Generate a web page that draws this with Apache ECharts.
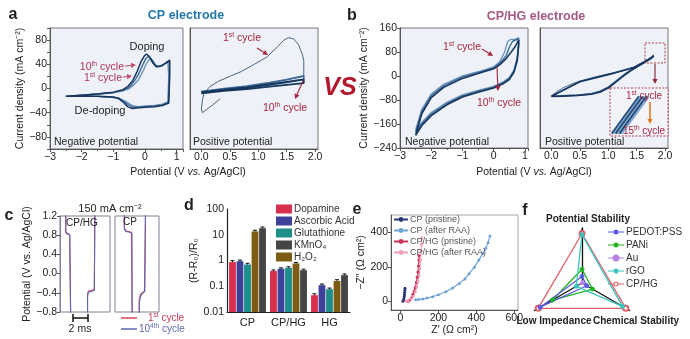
<!DOCTYPE html>
<html>
<head>
<meta charset="utf-8">
<script src="https://cdn.jsdelivr.net/npm/echarts@6/dist/echarts.min.js"></script>
<style>
html, body { margin: 0; padding: 0; background: #fff; }
#main { width: 690px; height: 339px; }
</style>
</head>
<body>
<div id="main"></div>
<script>
// ===== data =====
// a: CP electrode, cyclic voltammetry [V, mA cm-2]
var cpNeg1 = [[-2.5,-13],[-2.0,-11],[-1.5,-9],[-1.0,-7],[-0.7,-4],[-0.5,0],[-0.35,6],[-0.2,15],[-0.05,30],[0.05,42],[0.15,49],[0.25,46],[0.35,38],[0.45,36],[0.6,40],[0.72,45],[0.75,47],[0.75,20],[0.72,-22],[0.55,-26],[0.3,-28],[0.0,-29],[-0.2,-30],[-0.35,-29],[-0.5,-25],[-0.65,-20],[-0.8,-17],[-1.0,-15],[-1.5,-13],[-2.0,-13],[-2.5,-13]];
var cpNeg5 = [[-2.5,-13],[-2.0,-11],[-1.5,-9],[-1.0,-6.5],[-0.7,-3],[-0.52,1],[-0.38,9],[-0.22,22],[-0.08,38],[0.02,49],[0.1,53],[0.2,49],[0.3,40],[0.4,36],[0.55,38],[0.7,43],[0.77,46],[0.77,20],[0.74,-23],[0.55,-27],[0.3,-29],[0.0,-30],[-0.2,-31],[-0.38,-31],[-0.52,-27],[-0.68,-21],[-0.82,-16],[-1.0,-14.5],[-1.5,-13],[-2.0,-13],[-2.5,-13]];
var cpNeg10 = [[-2.5,-13],[-2.0,-11],[-1.5,-9],[-1.0,-6],[-0.7,-2],[-0.55,3],[-0.4,12],[-0.25,28],[-0.12,45],[-0.02,54],[0.05,57],[0.15,52],[0.25,42],[0.35,36],[0.5,37],[0.65,42],[0.78,47],[0.78,20],[0.75,-24],[0.55,-28],[0.3,-30],[0.0,-31],[-0.2,-32],[-0.4,-33],[-0.55,-30],[-0.7,-22],[-0.85,-16],[-1.0,-14],[-1.5,-13],[-2.0,-13],[-2.5,-13]];
var cpPos1 = [[0.33,-17],[0.2,-27],[0.1,-34],[0.02,-40],[0.0,-34],[0.02,-18],[0.05,-7],[0.15,3],[0.3,12],[0.5,20],[0.7,28],[0.93,40],[1.15,52],[1.35,70],[1.45,80],[1.53,84],[1.62,82],[1.71,72],[1.78,55],[1.8,46],[1.8,20],[1.5,14],[1.2,9],[0.8,3],[0.4,-1],[0.0,-5]];
var cpPos5 = [[0.0,-5],[0.4,0],[0.8,4],[1.2,10],[1.5,15],[1.8,21],[1.8,15],[1.5,10],[1.2,6],[0.8,1],[0.4,-3],[0.0,-7]];
var cpPos10 = [[0.0,-6],[0.4,-2],[0.8,2],[1.2,7],[1.5,11],[1.8,15],[1.8,9],[1.5,6],[1.2,3],[0.8,-1],[0.4,-4],[0.0,-8]];
// b: CP/HG electrode
var hgNeg1 = [[-2.5,-180],[-2.3,-110],[-2.0,-60],[-1.6,-28],[-1.0,0],[-0.5,14],[0.0,30],[0.2,48],[0.35,80],[0.45,115],[0.55,122],[0.7,122],[0.8,128],[0.8,110],[0.75,60],[0.65,20],[0.5,-5],[0.3,-20],[0.0,-35],[-0.5,-48],[-1.0,-63],[-1.5,-88],[-2.0,-122],[-2.3,-155],[-2.5,-180]];
var hgNeg5 = [[-2.5,-188],[-2.3,-118],[-2.0,-66],[-1.6,-33],[-1.0,-4],[-0.5,11],[0.0,27],[0.2,43],[0.4,68],[0.5,95],[0.6,115],[0.7,120],[0.8,124],[0.8,105],[0.76,55],[0.65,16],[0.5,-8],[0.3,-23],[0.0,-37],[-0.5,-51],[-1.0,-66],[-1.5,-92],[-2.0,-127],[-2.3,-160],[-2.5,-188]];
var hgNeg10 = [[-2.5,-198],[-2.3,-125],[-2.0,-72],[-1.6,-38],[-1.0,-8],[-0.5,8],[0.0,24],[0.2,38],[0.4,58],[0.55,78],[0.7,100],[0.8,120],[0.8,100],[0.75,50],[0.65,12],[0.5,-12],[0.3,-26],[0.0,-40],[-0.5,-54],[-1.0,-70],[-1.5,-96],[-2.0,-132],[-2.3,-165],[-2.5,-198]];
var hgPos1 = [[0.0,-66],[0.1,-52],[0.2,-40],[0.35,-27],[0.5,-17],[0.75,-4],[1.05,9],[1.25,18],[1.45,30],[1.6,44],[1.72,58],[1.8,70],[1.75,62],[1.63,48],[1.5,34],[1.4,22],[1.28,6],[1.16,-12],[1.0,-36],[0.85,-50],[0.7,-58],[0.46,-63],[0.2,-65],[0.0,-67]];
var hgPos8 = [[0.0,-67],[0.5,-18],[1.05,8],[1.45,29],[1.72,57],[1.8,68],[1.75,60],[1.63,46],[1.5,32],[1.4,20],[1.28,4],[1.16,-14],[1.0,-38],[0.85,-52],[0.7,-60],[0.46,-64],[0.2,-66],[0.0,-68]];
var hgPos15 = [[0.0,-68],[0.5,-19],[1.05,7],[1.45,28],[1.72,56],[1.8,66],[1.75,58],[1.63,44],[1.5,30],[1.4,18],[1.28,2],[1.16,-16],[1.0,-40],[0.85,-54],[0.7,-61],[0.46,-65],[0.2,-67],[0.0,-68]];
// b inset: zoom of the 1st..15th cycle ends
var hgInset = [
  [[1.56,42],[1.70,73]],
  [[1.57,42],[1.71,73]],
  [[1.58,42],[1.72,73]],
  [[1.59,42],[1.73,73]],
  [[1.60,42],[1.74,73]],
  [[1.61,42],[1.75,73]]
];
// c: galvanostatic curves at 150 mA cm-2 [ms, V]
var gcdHG1 = [[0.76,1.3],[0.76,0.88],[0.85,0.83],[1.0,0.82],[1.3,0.81],[1.42,0.78],[1.42,-0.9],[3.69,-0.9],[3.69,-0.44],[3.8,-0.37],[3.95,-0.34],[4.6,-0.33],[4.67,-0.3],[4.67,1.3]];
var gcdHG10k = [[0.78,1.3],[0.78,0.86],[0.88,0.82],[1.3,0.81],[1.44,0.79],[1.44,-0.9],[3.69,-0.9],[3.69,-0.47],[3.78,-0.39],[3.95,-0.36],[4.6,-0.35],[4.67,-0.32],[4.67,1.3]];
var gcdCP1 = [[1.24,1.3],[1.24,0.97],[1.4,0.9],[1.7,0.88],[2.2,0.86],[2.3,0.83],[2.3,-0.9],[3.24,-0.9],[3.24,-0.55],[3.4,-0.44],[3.7,-0.39],[4.0,-0.37],[4.09,-0.33],[4.09,1.3]];
var gcdCP10k = [[1.26,1.3],[1.26,0.93],[1.45,0.88],[2.0,0.86],[2.28,0.84],[2.3,0.8],[2.3,-0.9],[3.26,-0.9],[3.26,-0.62],[3.35,-0.52],[3.6,-0.42],[3.95,-0.38],[4.09,-0.35],[4.09,1.3]];
// d: (R-R0)/R0 with error bars
var dCats = ['CP', 'CP/HG', 'HG'];
var dDopamine = [0.87, 0.39, 0.045];
var dAscorbic = [0.94, 0.48, 0.11];
var dGlutathione = [0.7, 0.52, 0.077];
var dH2O2 = [13.5, 0.77, 0.16];
var dKMnO4 = [18, 0.42, 0.27];
var dDopamineErr = [0.12, 0.04, 0.006];
var dAscorbicErr = [0.1, 0.04, 0.012];
var dGlutathioneErr = [0.08, 0.05, 0.008];
var dH2O2Err = [1.5, 0.07, 0.02];
var dKMnO4Err = [2.0, 0.04, 0.03];
var dTicks = ['0.01', '0.1', '1', '10', '100'];
// e: Nyquist [Z', -Z'']
var eCPpristine = [[13,0],[16,6],[18,15],[20,28],[21,40],[22,52],[23,64],[24,76]];
var eCPafter = [[80,10],[95,11],[118,14],[140,19],[170,27],[200,38],[240,56],[275,78],[310,104],[340,130],[362,160],[390,198],[414,240],[435,278],[450,308],[462,340],[472,378]];
var eHGpristine = [[40,0],[50,8],[57,20],[65,40],[72,60],[78,80],[84,110],[88,140],[92,170],[95,205],[97,240],[98,266]];
var eHGafter = [[28,0],[40,5],[55,15],[68,30],[78,55],[86,85],[92,115],[98,150],[102,190],[106,240],[109,290],[111,330],[113,368]];
// f: radar scores
var fIndicators = ['Potential Stability', 'Low Impedance', 'Chemical Stability'];
var fPEDOT = [0.12, 0.88, 0.1];
var fPANi = [0.25, 0.62, 0.22];
var fAu = [0.03, 0.03, 0.03];
var fRGO = [0.88, 0.12, 0.85];
var fCPHG = [0.9, 0.92, 0.92];

// ===== chart =====
var FONT = '"Liberation Sans", Arial, Helvetica, sans-serif';
var chart = echarts.init(document.getElementById('main'), null, { renderer: 'canvas' });

function minus(v) { return String(v).replace('-', '\u2212'); }

function cv(data, idx, color, w) {
    return { type: 'line', xAxisIndex: idx, yAxisIndex: idx, data: data, symbol: 'none', silent: true,
        lineStyle: { color: color, width: w }, clip: true, z: 3 };
}

function txt(x, y, text, o) {
    return { type: 'text', x: x, y: y, z: 100, silent: true,
        style: Object.assign({ text: text, fill: '#222', fontSize: 10.5, fontFamily: FONT,
            textAlign: 'left', align: 'left', textVerticalAlign: 'middle', verticalAlign: 'middle' }, o || {}) };
}

// text with a superscript part, e.g. 10 + th + ' cycle'
function supTxt(x, y, a, s, b, color, size, align) {
    size = size || 10.5;
    return txt(x, y, '{n|' + a + '}{s|' + s + '}{n|' + b + '}', {
        textAlign: align || 'left', align: align || 'left',
        rich: { n: { fontSize: size, fill: color, fontFamily: FONT, lineHeight: 13 },
                s: { fontSize: size * 0.65, fill: color, fontFamily: FONT, lineHeight: 7, verticalAlign: 'top' } }
    });
}

function arrow(x1, y1, x2, y2, color, w) {
    var a = Math.atan2(y2 - y1, x2 - x1), L = 5, W = 2.6;
    var bx = x2 - L * Math.cos(a), by = y2 - L * Math.sin(a);
    var px = -Math.sin(a) * W, py = Math.cos(a) * W;
    return [
        { type: 'line', z: 100, silent: true, shape: { x1: x1, y1: y1, x2: bx, y2: by }, style: { stroke: color, lineWidth: w || 1.2 } },
        { type: 'polygon', z: 100, silent: true, shape: { points: [[x2, y2], [bx + px, by + py], [bx - px, by - py]] }, style: { fill: color } }
    ];
}

var axisCol = '#555';
function valAxis(idx, o) {
    return Object.assign({
        gridIndex: idx, type: 'value', splitLine: { show: false },
        axisLine: { show: true, onZero: false, lineStyle: { color: axisCol } },
        axisTick: { show: true, length: 3, lineStyle: { color: axisCol } },
        axisLabel: { fontSize: 10.5, color: '#222', margin: 3, fontFamily: FONT },
        nameTextStyle: { fontSize: 10.5, color: '#222', fontFamily: FONT }
    }, o);
}

var cvBg = '#eef1f7';
var grids = [
    { left: 50, top: 28, width: 133, height: 121, show: true, backgroundColor: cvBg, borderColor: '#777' },
    { left: 190, top: 28, width: 128, height: 121, show: true, backgroundColor: cvBg, borderColor: '#777' },
    { left: 400, top: 28, width: 128, height: 120, show: true, backgroundColor: cvBg, borderColor: '#777' },
    { left: 540, top: 28, width: 128, height: 120, show: true, backgroundColor: cvBg, borderColor: '#777' },
    { left: 610, top: 88, width: 58, height: 48, show: true, backgroundColor: '#f2f4fa', borderWidth: 0 },
    { left: 60, top: 216, width: 50, height: 96, show: true, borderColor: '#7c8198' },
    { left: 115, top: 216, width: 44, height: 96, show: true, borderColor: '#7c8198' },
    { left: 227, top: 209, width: 123, height: 103 },
    { left: 391, top: 215, width: 127, height: 95, show: true, borderColor: '#aaa' }
];

var posTicks = [0, 0.5, 1, 1.5, 2];
var posLabel = { customValues: posTicks, formatter: function (v) { return v.toFixed(1); }, fontSize: 10.5, color: '#222', margin: 3, fontFamily: FONT };
var cvYLabel = function (v) { return v % 40 === 0 ? minus(v) : ''; };

var xAxes = [
    valAxis(0, { min: -3, max: 1.2, interval: 1, minorTick: { show: true, splitNumber: 2, length: 2, lineStyle: { color: axisCol } },
        axisLabel: { formatter: minus, fontSize: 10.5, color: '#222', margin: 3, fontFamily: FONT } }),
    valAxis(1, { min: -0.2, max: 2.05, axisLabel: posLabel, axisTick: { customValues: posTicks, length: 3, lineStyle: { color: axisCol } } }),
    valAxis(2, { min: -3, max: 1.1, interval: 1, minorTick: { show: true, splitNumber: 2, length: 2, lineStyle: { color: axisCol } },
        axisLabel: { formatter: minus, fontSize: 10.5, color: '#222', margin: 3, fontFamily: FONT } }),
    valAxis(3, { min: -0.2, max: 2.05, axisLabel: posLabel, axisTick: { customValues: posTicks, length: 3, lineStyle: { color: axisCol } } }),
    valAxis(4, { min: 1.55, max: 1.85, show: false }),
    valAxis(5, { min: 0, max: 6.7, show: false }),
    valAxis(6, { min: 0, max: 5.9, show: false }),
    { gridIndex: 7, type: 'category', data: dCats, axisTick: { show: false },
      axisLine: { lineStyle: { color: '#222', width: 1.2 } },
      axisLabel: { interval: 0, fontSize: 11, color: '#222', margin: 5, fontFamily: FONT } },
    valAxis(8, { min: -50, max: 620, name: "Z\u2032 (\u03A9 cm\u00B2)", nameLocation: 'middle', nameGap: 15,
        axisLabel: { customValues: [0, 200, 400, 600], fontSize: 10.5, color: '#222', margin: 3, fontFamily: FONT },
        axisTick: { customValues: [0, 200, 400, 600], length: 3, lineStyle: { color: axisCol } } })
];

var yAxes = [
    valAxis(0, { min: -100, max: 100, interval: 20, name: 'Current density (mA cm\u207B\u00B2)', nameLocation: 'middle', nameGap: 23,
        axisLabel: { formatter: cvYLabel, fontSize: 10.5, color: '#222', margin: 3, fontFamily: FONT } }),
    valAxis(1, { min: -100, max: 100, axisLabel: { show: false }, axisTick: { show: false } }),
    valAxis(2, { min: -240, max: 160, interval: 80, name: 'Current density (mA cm\u207B\u00B2)', nameLocation: 'middle', nameGap: 29,
        axisLabel: { formatter: minus, fontSize: 10.5, color: '#222', margin: 3, fontFamily: FONT } }),
    valAxis(3, { min: -240, max: 160, axisLabel: { show: false }, axisTick: { show: false } }),
    valAxis(4, { min: 40, max: 80, show: false }),
    valAxis(5, { min: -0.8, max: 1.2, interval: 0.4, name: 'Potential (V vs. Ag/AgCl)', nameLocation: 'middle', nameGap: 24,
        axisLine: { show: true, lineStyle: { color: '#7c8198' } },
        axisLabel: { formatter: function (v) { return minus(v.toFixed(1)); }, fontSize: 10.5, color: '#222', margin: 3, fontFamily: FONT } }),
    valAxis(6, { min: -0.8, max: 1.2, axisLabel: { show: false }, axisTick: { show: false }, axisLine: { show: false } }),
    valAxis(7, { min: 0, max: 4, interval: 1, name: '(R-R\u2080)/R\u2080', nameLocation: 'middle', nameGap: 25,
        axisLine: { show: true, lineStyle: { color: '#222', width: 1.2 } },
        axisTick: { length: 3, lineStyle: { color: '#222' } },
        axisLabel: { formatter: function (v) { return dTicks[Math.round(v)]; }, fontSize: 10.5, color: '#222', margin: 3, fontFamily: FONT } }),
    valAxis(8, { min: -50, max: 500, name: "\u2212Z\u2033 (\u03A9 cm\u00B2)", nameLocation: 'middle', nameGap: 20,
        axisLabel: { customValues: [0, 200, 400], fontSize: 10.5, color: '#222', margin: 3, fontFamily: FONT },
        axisTick: { customValues: [0, 200, 400], length: 3, lineStyle: { color: axisCol } } })
];

var light = '#6f96bb', mid = '#3b6996', dark = '#17365e';
var series = [
    cv(cpNeg1, 0, light, 1.4), cv(cpNeg5, 0, mid, 1.4), cv(cpNeg10, 0, dark, 1.5),
    cv(cpPos1, 1, '#4b6680', 1), cv(cpPos5, 1, mid, 1.6), cv(cpPos10, 1, dark, 1.8),
    cv(hgNeg1, 2, light, 1.4), cv(hgNeg5, 2, mid, 1.4), cv(hgNeg10, 2, dark, 1.6),
    cv(hgPos1, 3, '#4f6e8c', 1), cv(hgPos8, 3, mid, 1.4), cv(hgPos15, 3, dark, 1.6)
];
hgInset.forEach(function (seg, i) {
    series.push(cv(seg, 4, i % 2 ? '#7fa3c8' : '#1d4675', 2.2));
});
series.push(cv(gcdHG1, 5, '#d9465a', 1.1), cv(gcdHG10k, 5, '#5e67b0', 1.1),
            cv(gcdCP1, 6, '#d9465a', 1.1), cv(gcdCP10k, 6, '#5e67b0', 1.1));

// d bars: values mapped onto a log scale (0.01 -> 0)
function logShift(v) { return Math.log10(v) + 2; }
var barDefs = [
    ['Dopamine', dDopamine, dDopamineErr, '#d8304c'],
    ['Ascorbic Acid', dAscorbic, dAscorbicErr, '#3e4199'],
    ['Glutathione', dGlutathione, dGlutathioneErr, '#1e8e8a'],
    ['H\u2082O\u2082', dH2O2, dH2O2Err, '#7d5d14'],
    ['KMnO\u2084', dKMnO4, dKMnO4Err, '#454545']
];
var errData = [];
barDefs.forEach(function (b, bi) {
    series.push({ type: 'bar', name: b[0], xAxisIndex: 7, yAxisIndex: 7, data: b[1].map(logShift),
        itemStyle: { color: b[3] }, barGap: '10%', barCategoryGap: '10%', silent: true });
    b[1].forEach(function (v, ci) { errData.push([ci, bi, logShift(v), logShift(v + b[2][ci])]); });
});
series.push({ type: 'custom', xAxisIndex: 7, yAxisIndex: 7, data: errData, silent: true, z: 10,
    renderItem: function (params, api) {
        var ci = api.value(0), bi = api.value(1);
        var band = api.size([1, 0])[0] * 0.9, bw = band / 5.4;
        var x = api.coord([ci, 0])[0] - band / 2 + bi * bw * 1.1 + bw / 2;
        var y0 = api.coord([ci, api.value(2)])[1], y1 = api.coord([ci, api.value(3)])[1];
        var st = { stroke: '#111', lineWidth: 1 };
        return { type: 'group', children: [
            { type: 'line', shape: { x1: x, y1: y0, x2: x, y2: y1 }, style: st },
            { type: 'line', shape: { x1: x - 2, y1: y1, x2: x + 2, y2: y1 }, style: st }
        ] };
    } });

// e Nyquist
function nyq(name, data, color) {
    return { type: 'line', name: name, xAxisIndex: 8, yAxisIndex: 8, data: data, symbol: 'circle', symbolSize: 3,
        lineStyle: { color: color, width: 1.2 }, itemStyle: { color: color }, silent: true };
}
series.push(nyq('CP (pristine)', eCPpristine, '#2a3775'),
            nyq('CP (after RAA)', eCPafter, '#6ea3d6'),
            nyq('CP/HG (pristine)', eHGpristine, '#c8365a'),
            nyq('CP/HG (after RAA)', eHGafter, '#ef9db6'));

// f radar
var icLine = 'path://M0,3.4H16V4.6H0Z M10.5,4A2.5,2.5 0 1 1 5.5,4A2.5,2.5 0 1 1 10.5,4Z';
var icBig = 'path://M0,3.4H16V4.6H0Z M11.5,4A3.5,3.5 0 1 1 4.5,4A3.5,3.5 0 1 1 11.5,4Z';
var icRing = 'path://M0,3.4H5.6V4.6H0Z M10.4,3.4H16V4.6H10.4Z M10.5,4A2.5,2.5 0 1 1 5.5,4A2.5,2.5 0 1 1 10.5,4Z M9.4,4A1.4,1.4 0 1 0 6.6,4A1.4,1.4 0 1 0 9.4,4Z';
function rItem(name, v, color, sym, size) {
    return { name: name, value: v, symbol: sym, symbolSize: size,
        lineStyle: { color: color, width: 1.3 }, itemStyle: { color: color, borderColor: color } };
}
series.push({ type: 'radar', silent: true, z: 5, data: [
    rItem('CP/HG', fCPHG, '#e0606a', 'emptyCircle', 5),
    rItem('Au', fAu, '#b484e0', 'circle', 2),
    rItem('PANi', fPANi, '#22b522', 'circle', 4),
    rItem('PEDOT:PSS', fPEDOT, '#5a5ce0', 'circle', 4),
    rItem('rGO', fRGO, '#38c6bd', 'circle', 4)
] });

// ===== annotations =====
var red = '#a6263e';
var g = [];
g.push(txt(13, 15, 'a', { fontSize: 16, fontWeight: 'bold', textAlign: 'center', align: 'center' }));
g.push(txt(352, 16, 'b', { fontSize: 16, fontWeight: 'bold', textAlign: 'center', align: 'center' }));
g.push(txt(9, 216, 'c', { fontSize: 16, fontWeight: 'bold', textAlign: 'center', align: 'center' }));
g.push(txt(189, 206, 'd', { fontSize: 16, fontWeight: 'bold', textAlign: 'center', align: 'center' }));
g.push(txt(357, 210, 'e', { fontSize: 16, fontWeight: 'bold', textAlign: 'center', align: 'center' }));
g.push(txt(525, 211, 'f', { fontSize: 16, fontWeight: 'bold', textAlign: 'center', align: 'center' }));
g.push(txt(186, 16, 'CP electrode', { fontSize: 12.5, fontWeight: 'bold', fill: '#2479ae', textAlign: 'center', align: 'center' }));
g.push(txt(536, 17, 'CP/HG electrode', { fontSize: 12.5, fontWeight: 'bold', fill: '#a55a83', textAlign: 'center', align: 'center' }));
g.push(txt(340, 88, 'VS', { fontSize: 25, fontWeight: 'bold', fontStyle: 'italic', fill: '#b3172c', textAlign: 'center', align: 'center' }));
var potRich = { n: { fontSize: 10.5, fill: '#222', fontFamily: FONT }, i: { fontSize: 10.5, fill: '#222', fontStyle: 'italic', fontFamily: FONT } };
g.push(txt(188, 172, '{n|Potential (V }{i|vs.}{n| Ag/AgCl)}', { textAlign: 'center', align: 'center', rich: potRich }));
g.push(txt(534, 172, '{n|Potential (V }{i|vs.}{n| Ag/AgCl)}', { textAlign: 'center', align: 'center', rich: potRich }));

// a left
g.push(txt(147, 47, 'Doping', { fontSize: 11, textAlign: 'center', align: 'center' }));
g.push(txt(100, 111, 'De-doping', { fontSize: 11, textAlign: 'center', align: 'center' }));
g.push(supTxt(124, 67, '10', 'th', ' cycle', '#b0325a', 10.5, 'right'));
g.push(supTxt(122, 78, '1', 'st', ' cycle', '#b0325a', 10.5, 'right'));
g = g.concat(arrow(125, 66, 136, 65, '#c04a70', 1), arrow(123, 77, 132, 76, '#c04a70', 1));
g.push(txt(54, 142, 'Negative potential'));
// a right
g.push(supTxt(223, 38, '1', 'st', ' cycle', red));
g = g.concat(arrow(257, 48, 268, 55, red, 1.1));
g.push(supTxt(263, 108, '10', 'th', ' cycle', red));
g = g.concat(arrow(303, 81, 295, 99, red, 1.1));
g.push(txt(193, 142, 'Positive potential'));
// b left
g.push(supTxt(443, 47, '1', 'st', ' cycle', red));
g = g.concat(arrow(482, 49, 493, 56, red, 1.1));
g = g.concat(arrow(497, 67, 498, 91, red, 1.1));
g.push(supTxt(477, 103, '10', 'th', ' cycle', red));
g.push(txt(405, 142, 'Negative potential'));
// b right
g.push(txt(545, 142, 'Positive potential'));
g.push({ type: 'rect', z: 100, silent: true, shape: { x: 645, y: 43, width: 20, height: 20 }, style: { fill: 'none', stroke: '#b33a4a', lineWidth: 1, lineDash: [2, 1.5] } });
g = g.concat(arrow(655, 64, 655, 84, '#8e2f3c', 1.2));
g.push({ type: 'rect', z: 100, silent: true, shape: { x: 610, y: 88, width: 58, height: 48 }, style: { fill: 'none', stroke: '#b33a4a', lineWidth: 1, lineDash: [2, 1.5] } });
g.push(supTxt(626, 96, '1', 'st', ' cycle', red, 10));
g = g.concat(arrow(650, 102, 650, 124, '#e07a20', 1.6));
g.push(supTxt(623, 131, '15', 'th', ' cycle', red, 10));

// c
g.push(txt(110, 209, '150 mA cm\u207B\u00B2', { fontSize: 11, textAlign: 'center', align: 'center' }));
g.push(txt(66, 223, 'CP/HG', { fontSize: 10 }));
g.push(txt(130, 222, 'CP', { fontSize: 10, textAlign: 'center', align: 'center' }));
g.push({ type: 'line', z: 100, silent: true, shape: { x1: 73, y1: 318, x2: 88, y2: 318 }, style: { stroke: '#111', lineWidth: 1.5 } });
g.push({ type: 'line', z: 100, silent: true, shape: { x1: 73, y1: 314, x2: 73, y2: 322 }, style: { stroke: '#111', lineWidth: 1.5 } });
g.push({ type: 'line', z: 100, silent: true, shape: { x1: 88, y1: 314, x2: 88, y2: 322 }, style: { stroke: '#111', lineWidth: 1.5 } });
g.push(txt(80, 329, '2 ms', { textAlign: 'center', align: 'center' }));
g.push({ type: 'line', z: 100, silent: true, shape: { x1: 121, y1: 318, x2: 137, y2: 318 }, style: { stroke: '#d9465a', lineWidth: 1.5 } });
g.push({ type: 'line', z: 100, silent: true, shape: { x1: 121, y1: 329, x2: 137, y2: 329 }, style: { stroke: '#5e67b0', lineWidth: 1.5 } });
g.push(supTxt(148, 318, '1', 'st', ' cycle', '#c83a55', 10));
g.push(supTxt(139, 329, '10', '4th', ' cycle', '#5e67b0', 10));

// f
g.push(txt(588, 219, 'Potential Stability', { fontSize: 10, fontWeight: 'bold', textAlign: 'center', align: 'center' }));
g.push(txt(554, 321, 'Low Impedance', { fontSize: 10, fontWeight: 'bold', textAlign: 'center', align: 'center' }));
g.push(txt(636, 321, 'Chemical Stability', { fontSize: 10, fontWeight: 'bold', textAlign: 'center', align: 'center' }));

var option = {
    animation: false,
    textStyle: { fontFamily: FONT },
    grid: grids,
    xAxis: xAxes,
    yAxis: yAxes,
    radar: {
        center: [582, 283], radius: 55, startAngle: 90, shape: 'polygon', splitNumber: 1,
        indicator: fIndicators.map(function (n) { return { name: n, max: 1 }; }),
        axisName: { show: false },
        splitLine: { show: false }, splitArea: { show: false },
        axisLine: { lineStyle: { color: '#111', width: 1.3 }, symbol: ['none', 'arrow'], symbolSize: [5, 7] }
    },
    legend: [
        { data: ['Dopamine', 'Ascorbic Acid', 'Glutathione', 'KMnO\u2084', 'H\u2082O\u2082'], left: 276, top: 204, orient: 'vertical',
          itemWidth: 16, itemHeight: 9, itemGap: 2, icon: 'rect', padding: 0,
          textStyle: { fontSize: 10, color: '#333', fontFamily: FONT, padding: [0, 0, 0, -3] } },
        { data: ['CP (pristine)', 'CP (after RAA)', 'CP/HG (pristine)', 'CP/HG (after RAA)'], left: 393, top: 215, orient: 'vertical',
          itemWidth: 14, itemHeight: 6, itemGap: 2, padding: 0,
          textStyle: { fontSize: 9, color: '#555', fontFamily: FONT, padding: [0, 0, 0, -3] } },
        { data: [{ name: 'PEDOT:PSS', icon: icLine }, { name: 'PANi', icon: icLine }, { name: 'Au', icon: icBig },
                 { name: 'rGO', icon: icLine }, { name: 'CP/HG', icon: icRing }],
          left: 608, top: 227, orient: 'vertical', itemWidth: 16, itemHeight: 8, itemGap: 3, padding: 0,
          textStyle: { fontSize: 10, color: '#333', fontFamily: FONT, padding: [0, 0, 0, -3] } }
    ],
    graphic: { elements: g },
    series: series
};
chart.setOption(option);
</script>
</body>
</html>
